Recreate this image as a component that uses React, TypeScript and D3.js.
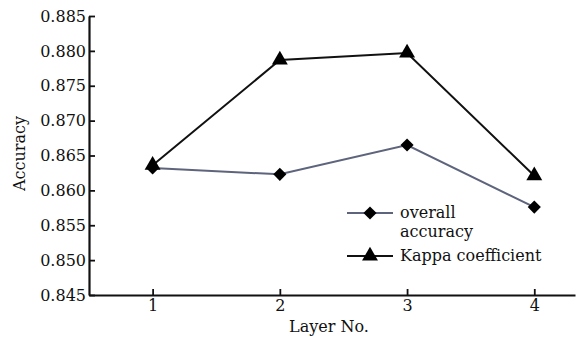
import React, { useEffect, useRef } from 'react';
import * as d3 from 'd3';

const layers = [1, 2, 3, 4];
const overallAccuracy = [0.8632, 0.8623, 0.8665, 0.8576];
const kappaCoefficient = [0.8636, 0.8787, 0.8797, 0.8621];
const yTicks = [0.845, 0.85, 0.855, 0.86, 0.865, 0.87, 0.875, 0.88, 0.885];

const W = 588;
const H = 339;
const MARGIN = { top: 16, right: 13, bottom: 44, left: 89 };
const FONT = '"DejaVu Serif", "Liberation Serif", serif';
const FS = '16px';

const App: React.FC = () => {
  const svgRef = useRef<SVGSVGElement>(null);

  useEffect(() => {
    const svg = d3.select(svgRef.current);
    svg.selectAll('*').remove();

    const cw = W - MARGIN.left - MARGIN.right;
    const ch = H - MARGIN.top - MARGIN.bottom;
    const g = svg.append('g').attr('transform', `translate(${MARGIN.left},${MARGIN.top})`);

    const x = d3.scaleLinear().domain([0.5, 4.32]).range([0, cw]);
    const y = d3.scaleLinear().domain([0.845, 0.885]).range([ch, 0]);

    // axes
    const xAxis = g.append('g')
      .attr('transform', `translate(0,${ch})`)
      .call(d3.axisBottom(x).tickValues(layers).tickFormat(d3.format('d')).tickSize(-6).tickSizeOuter(0));
    const yAxis = g.append('g')
      .call(d3.axisLeft(y).tickValues(yTicks).tickFormat(d3.format('.3f')).tickSize(-6).tickSizeOuter(0));

    [xAxis, yAxis].forEach(a => {
      a.select('.domain').attr('stroke', '#111').attr('stroke-width', 2.2);
      a.selectAll('.tick line').attr('stroke', '#111').attr('stroke-width', 1.8);
      a.selectAll('text').attr('fill', '#111').style('font-family', FONT).style('font-size', FS);
    });
    xAxis.selectAll('text').attr('dy', '0.6em').attr('y', 6);
    yAxis.selectAll('text').attr('x', -3);

    g.append('text')
      .attr('x', cw / 2 - 3)
      .attr('y', ch + 37)
      .attr('text-anchor', 'middle')
      .style('font-family', FONT)
      .style('font-size', FS)
      .attr('fill', '#111')
      .text('Layer No.');

    g.append('text')
      .attr('transform', 'rotate(-90)')
      .attr('x', -ch / 2 + 2)
      .attr('y', -MARGIN.left + 25)
      .attr('text-anchor', 'middle')
      .style('font-family', FONT)
      .style('font-size', FS)
      .attr('fill', '#111')
      .text('Accuracy');

    const line = d3.line<number>().x((_, i) => x(layers[i])).y(d => y(d));
    const diamond = d3.symbol().type(d3.symbolDiamond2).size(110);
    const triangle = d3.symbol().type(d3.symbolTriangle).size(110);

    g.append('path').datum(kappaCoefficient).attr('d', line)
      .attr('fill', 'none').attr('stroke', '#111').attr('stroke-width', 2);
    g.append('path').datum(overallAccuracy).attr('d', line)
      .attr('fill', 'none').attr('stroke', '#5d647c').attr('stroke-width', 2);

    g.selectAll('.tri').data(kappaCoefficient).enter().append('path')
      .attr('d', triangle)
      .attr('transform', (d, i) => `translate(${x(layers[i])},${y(d)})`)
      .attr('fill', '#000');
    g.selectAll('.dia').data(overallAccuracy).enter().append('path')
      .attr('d', diamond)
      .attr('transform', (d, i) => `translate(${x(layers[i])},${y(d)})`)
      .attr('fill', '#000');

    // legend
    const lg = svg.append('g').attr('transform', 'translate(347,213)');
    lg.append('line').attr('x1', 0).attr('x2', 46).attr('y1', 0).attr('y2', 0)
      .attr('stroke', '#5d647c').attr('stroke-width', 2);
    lg.append('path').attr('d', diamond).attr('transform', 'translate(23,0)').attr('fill', '#000');
    lg.append('text').attr('x', 53).attr('y', 5)
      .style('font-family', FONT).style('font-size', FS).attr('fill', '#111').text('overall');
    lg.append('text').attr('x', 53).attr('y', 24)
      .style('font-family', FONT).style('font-size', FS).attr('fill', '#111').text('accuracy');
    lg.append('line').attr('x1', 0).attr('x2', 46).attr('y1', 43).attr('y2', 43)
      .attr('stroke', '#111').attr('stroke-width', 2);
    lg.append('path').attr('d', triangle).attr('transform', 'translate(23,43)').attr('fill', '#000');
    lg.append('text').attr('x', 53).attr('y', 48)
      .style('font-family', FONT).style('font-size', FS).attr('fill', '#111').text('Kappa coefficient');
  }, []);

  return <svg ref={svgRef} width={W} height={H} style={{ position: 'absolute', left: 0, top: 0, background: '#fff' }} />;
};

export default App;
